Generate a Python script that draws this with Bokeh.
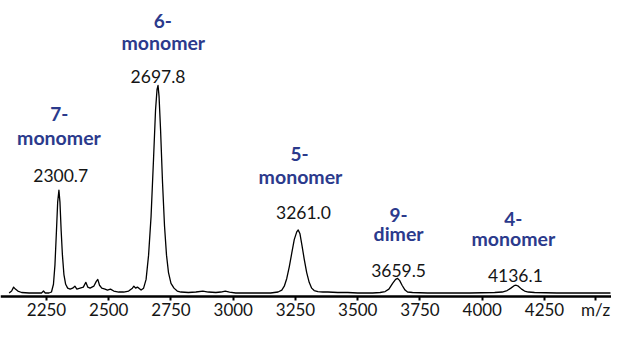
from bokeh.plotting import figure
from bokeh.models import Range1d, FixedTicker, ColumnDataSource
from bokeh.core.properties import value
from bokeh.embed import file_html
from bokeh.resources import INLINE

# ---- spectrum trace (m/z, relative intensity) ----
mz = [2100, 2110, 2118, 2125, 2135, 2150, 2180, 2210, 2230, 2238, 2245, 2260,
      2270, 2278, 2284, 2290, 2295, 2300, 2304, 2309, 2314, 2320, 2327, 2335,
      2345, 2355, 2364, 2372, 2385, 2398, 2408, 2416, 2425, 2440, 2450, 2456,
      2463, 2472, 2485, 2495, 2507, 2520, 2540, 2560, 2580, 2595, 2601, 2608,
      2615, 2621, 2630, 2640, 2650, 2660, 2670, 2680, 2688, 2694, 2698, 2702,
      2708, 2716, 2724, 2732, 2740, 2750, 2762, 2775, 2790, 2820, 2850, 2878,
      2900, 2930, 2950, 2968, 2985, 3010, 3050, 3100, 3150, 3180, 3195, 3205,
      3215, 3225, 3235, 3245, 3255, 3261, 3268, 3276, 3285, 3295, 3305, 3315,
      3325, 3340, 3360, 3380, 3420, 3460, 3500, 3560, 3590, 3610, 3625, 3640,
      3652, 3660, 3668, 3678, 3690, 3700, 3720, 3780, 3850, 3950, 4050, 4080,
      4100, 4115, 4128, 4136, 4145, 4158, 4170, 4185, 4210, 4300, 4400, 4515]
intensity = [1, 3, 7, 5, 3, 1.5, 1, 1, 1, 3, 1, 1,
             2, 10, 30, 65, 95, 107, 95, 65, 40, 20, 10, 6,
             5, 6, 8, 5, 6, 7, 12, 7, 6, 8, 13, 15,
             9, 6, 5, 4, 5, 3, 2, 2, 3, 6, 8, 6,
             7, 6, 4, 6, 15, 40, 80, 140, 190, 211, 215, 204,
             170, 115, 70, 40, 22, 11, 6, 3, 2, 1.5, 2, 3,
             2, 1.5, 2, 3, 2, 1, 1, 1, 1, 2, 4, 8,
             16, 28, 42, 56, 64, 66, 62, 50, 36, 22, 12, 6,
             3.5, 2.5, 2, 2, 1.5, 1.5, 1, 1, 1.5, 2.5, 5, 11,
             15, 16, 14, 9, 4, 2, 1.5, 1, 1, 1, 1.5, 2,
             3.5, 6, 8.5, 9, 8, 5, 3, 2, 1.5, 1, 1, 1]

# ---- peak annotations ----
species_charge = ["7-", "6-", "5-", "9-", "4-"]
species_name = ["monomer", "monomer", "monomer", "dimer", "monomer"]
peak_label = ["2300.7", "2697.8", "3261.0", "3659.5", "4136.1"]

x_ticks = [2250, 2500, 2750, 3000, 3250, 3500, 3750, 4000, 4250]
x_unit = "m/z"
unit_tick = 4455

# annotation placement (data units)
charge_x = [2301, 2717, 3266, 3664, 4125]
charge_y = [186, 281, 144, 81, 77]
name_x = [2300, 2719, 3270, 3664, 4125]
name_y = [161, 259, 121, 62, 57]
num_x = [2307, 2698, 3282, 3664, 4133]
num_y = [122, 224, 84, 24, 19]

BLUE = "#2b3a8c"
INK = "#151515"
FONT = "Lato"

p = figure(width=611, height=321, output_backend="svg", toolbar_location=None,
           x_range=Range1d(2065.3, 4519.1), y_range=Range1d(-28.4, 302.6),
           y_axis_location=None, min_border_left=0, min_border_right=0,
           min_border_top=0, min_border_bottom=0)
p.outline_line_color = None
p.xgrid.visible = False
p.ygrid.visible = False
p.background_fill_color = "white"
p.border_fill_color = "white"

p.line(mz, intensity, line_color="black", line_width=1.3, line_join="round")

src_c = ColumnDataSource(dict(x=charge_x, y=charge_y, t=species_charge))
src_n = ColumnDataSource(dict(x=name_x, y=name_y, t=species_name))
src_v = ColumnDataSource(dict(x=num_x, y=num_y, t=peak_label))
for src, color, style, size in ((src_c, BLUE, "bold", "19px"),
                                (src_n, BLUE, "bold", "19.5px"),
                                (src_v, INK, "normal", "17.5px")):
    p.text(x="x", y="y", text="t", source=src, text_font=value(FONT),
           text_font_size=size, text_font_style=style, text_color=color,
           text_align="center", text_baseline="alphabetic")

ax = p.xaxis[0]
ax.fixed_location = -2.6
ax.ticker = FixedTicker(ticks=x_ticks + [unit_tick])
ax.major_label_overrides = {unit_tick: x_unit}
ax.axis_line_width = 2.5
ax.axis_line_color = "black"
ax.major_tick_line_width = 2
ax.major_tick_line_color = "black"
ax.major_tick_in = 0
ax.major_tick_out = 4
ax.minor_tick_line_color = None
ax.major_label_standoff = -1
ax.major_label_text_font = FONT
ax.major_label_text_font_size = "17px"
ax.major_label_text_color = INK

open("out.html", "w").write(file_html(p, INLINE))
